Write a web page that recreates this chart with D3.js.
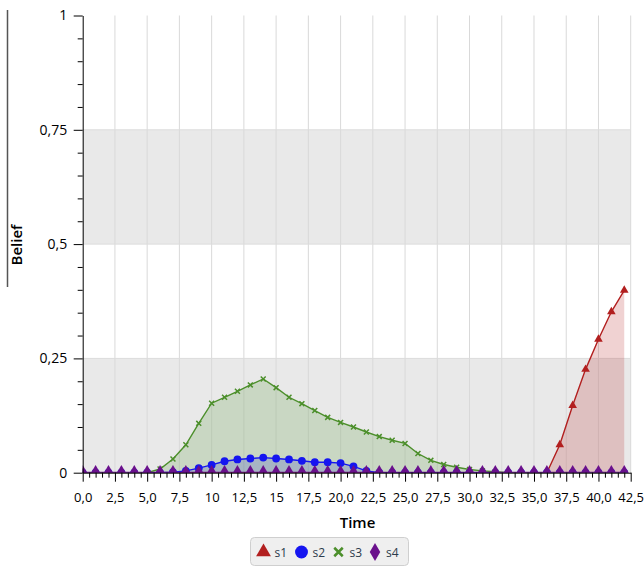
<!DOCTYPE html>
<html>
<head>
<meta charset="utf-8">
<script src="https://cdn.jsdelivr.net/npm/d3@7"></script>
<style>
  body { margin: 0; background: #fff; }
  svg { font-family: "Open Sans", "Noto Sans", sans-serif; }
  .axis path, .axis line { stroke: #000; }
</style>
</head>
<body>
<div id="chart"></div>
<script>
  "use strict";

  // time steps
  var times = d3.range(0, 43);

  // belief per series (one value per time step)
  var s1 = [0, 0, 0, 0, 0, 0, 0, 0, 0, 0,
            0, 0, 0, 0, 0, 0, 0, 0, 0, 0,
            0, 0, 0, 0, 0, 0, 0, 0, 0, 0,
            0, 0, 0, 0, 0, 0, 0, 0.061, 0.147, 0.226,
            0.292, 0.352, 0.399];
  var s2 = [0, 0, 0, 0, 0, 0, 0, 0.001, 0.004, 0.010,
            0.017, 0.025, 0.029, 0.031, 0.033, 0.031, 0.029, 0.026, 0.023, 0.023,
            0.021, 0.014, 0.004, 0, 0, 0, 0, 0, 0, 0,
            0, 0, 0, 0, 0, 0, 0, 0, 0, 0,
            0, 0, 0];
  var s3 = [0, 0, 0, 0, 0, 0, 0.008, 0.030, 0.061, 0.108,
            0.152, 0.165, 0.178, 0.192, 0.205, 0.186, 0.165, 0.151, 0.136, 0.121,
            0.110, 0.100, 0.089, 0.079, 0.071, 0.064, 0.042, 0.027, 0.018, 0.012,
            0.007, 0.004, 0.002, 0, 0, 0, 0, 0, 0, 0,
            0, 0, 0];
  var s4 = [0, 0, 0, 0, 0, 0, 0, 0, 0, 0,
            0, 0, 0, 0, 0, 0, 0, 0, 0, 0,
            0, 0, 0, 0, 0, 0, 0, 0, 0, 0,
            0, 0, 0, 0, 0, 0, 0, 0, 0, 0,
            0, 0, 0];

  var seriesNames = ["s1", "s2", "s3", "s4"];
  var seriesValues = [s1, s2, s3, s4];

  // axis ticks
  var xTicks = [0, 2.5, 5, 7.5, 10, 12.5, 15, 17.5, 20, 22.5, 25, 27.5, 30, 32.5, 35, 37.5, 40, 42.5];
  var xTickLabels = ["0,0", "2,5", "5,0", "7,5", "10", "12,5", "15", "17,5", "20,0", "22,5",
                     "25,0", "27,5", "30,0", "32,5", "35,0", "37,5", "40,0", "42,5"];
  var yTicks = [0, 0.25, 0.5, 0.75, 1];
  var yTickLabels = ["0", "0,25", "0,5", "0,75", "1"];
  var bands = [[0, 0.25], [0.5, 0.75]];

  var colors = { s1: "#b21f1f", s2: "#1515f0", s3: "#4c8f2b", s4: "#6a108c" };
  var shapes = { s1: d3.symbolTriangle, s2: d3.symbolCircle, s3: d3.symbolCross, s4: d3.symbolDiamond };

  var width = 644, height = 567;
  var margin = { left: 82.7, right: 13.3, top: 15.5, bottom: 94.3 };
  var innerW = width - margin.left - margin.right;
  var innerH = height - margin.top - margin.bottom;

  var svg = d3.select("#chart").append("svg")
      .attr("width", width)
      .attr("height", height);

  var x = d3.scaleLinear().domain([0, 42.5]).range([0, innerW]);
  var y = d3.scaleLinear().domain([0, 1]).range([innerH, 0]);

  var plot = svg.append("g")
      .attr("transform", "translate(" + margin.left + "," + margin.top + ")");

  svg.append("defs").append("clipPath").attr("id", "clip")
    .append("rect").attr("x", 0).attr("y", -10).attr("width", innerW + 8).attr("height", innerH + 10);

  // alternating bands
  plot.selectAll("rect.band").data(bands).enter().append("rect")
      .attr("class", "band")
      .attr("x", 0)
      .attr("width", innerW)
      .attr("y", function (d) { return y(d[1]); })
      .attr("height", function (d) { return y(d[0]) - y(d[1]); })
      .attr("fill", "#e9e9e9");

  // grid
  plot.selectAll("line.vgrid").data(xTicks.slice(1)).enter().append("line")
      .attr("class", "vgrid")
      .attr("x1", function (d) { return x(d); })
      .attr("x2", function (d) { return x(d); })
      .attr("y1", y(1)).attr("y2", y(0))
      .attr("stroke", "#d9d9d9").attr("stroke-width", 1);

  plot.selectAll("line.hgrid").data(yTicks.slice(1, 4)).enter().append("line")
      .attr("class", "hgrid")
      .attr("x1", 0).attr("x2", innerW)
      .attr("y1", function (d) { return y(d); })
      .attr("y2", function (d) { return y(d); })
      .attr("stroke", "#dcdcdc").attr("stroke-width", 1);

  var series = seriesNames.map(function (name, i) {
    return {
      name: name,
      points: times.map(function (t, j) { return { t: t, v: seriesValues[i][j] }; })
    };
  });

  var area = d3.area()
      .x(function (d) { return x(d.t); })
      .y0(y(0))
      .y1(function (d) { return y(d.v); });

  var line = d3.line()
      .x(function (d) { return x(d.t); })
      .y(function (d) { return y(d.v); });

  var marks = plot.append("g").attr("clip-path", "url(#clip)");

  marks.selectAll("path.area").data(series).enter().append("path")
      .attr("class", "area")
      .attr("d", function (d) { return area(d.points); })
      .attr("fill", function (d) { return colors[d.name]; })
      .attr("fill-opacity", 0.2);

  series.forEach(function (s) {
    var g = marks.append("g");
    g.append("path")
        .attr("d", line(s.points))
        .attr("fill", "none")
        .attr("stroke", colors[s.name])
        .attr("stroke-width", s.name === "s4" ? 2 : 1.4);

    var size = { s1: 32, s2: 48, s3: 40, s4: 70 }[s.name];
    g.selectAll("path.pt").data(s.points).enter().append("path")
        .attr("class", "pt")
        .attr("transform", function (d) {
          return "translate(" + x(d.t) + "," + y(d.v) + ")" + (s.name === "s3" ? " rotate(45)" : "");
        })
        .attr("d", s.name === "s3"
          ? "M-3.5,0H3.5M0,-3.5V3.5"
          : d3.symbol().type(shapes[s.name]).size(size)())
        .attr("fill", s.name === "s3" ? "none" : colors[s.name])
        .attr("stroke", s.name === "s3" ? colors[s.name] : "none")
        .attr("stroke-width", 1.5);
  });

  // axes
  var xMinor = d3.range(0, 42.51, 0.5).filter(function (d) { return xTicks.indexOf(d) < 0; });
  var yMinor = d3.range(0, 1.001, 0.05).map(function (d) { return Math.round(d * 100) / 100; })
      .filter(function (d) { return yTicks.indexOf(d) < 0; });

  function styleLabels(size) {
    return function (g) {
      g.selectAll("text")
          .style("font-family", "'Open Sans', 'Noto Sans', sans-serif")
          .style("font-size", size + "px")
          .attr("fill", "#000");
    };
  }

  plot.append("g").attr("class", "axis")
      .attr("transform", "translate(0," + innerH + ")")
      .call(d3.axisBottom(x).tickValues(xMinor).tickSize(5).tickFormat("").tickSizeOuter(0))
      .select(".domain").remove();

  plot.append("g").attr("class", "axis")
      .attr("transform", "translate(0," + innerH + ")")
      .call(d3.axisBottom(x).tickValues(xTicks).tickSize(9).tickSizeOuter(0)
        .tickFormat(function (d, i) { return xTickLabels[i]; }))
      .call(styleLabels(13))
      .call(function (g) { g.selectAll("text").attr("y", 20); });

  plot.append("g").attr("class", "axis")
      .call(d3.axisLeft(y).tickValues(yMinor).tickSize(5).tickFormat("").tickSizeOuter(0))
      .select(".domain").remove();

  plot.append("g").attr("class", "axis")
      .call(d3.axisLeft(y).tickValues(yTicks).tickSize(9).tickSizeOuter(0)
        .tickFormat(function (d, i) { return yTickLabels[i]; }))
      .call(styleLabels(14))
      .call(function (g) { g.selectAll("text").attr("x", -15.5); });

  // axis titles
  svg.append("text")
      .attr("x", 357.5).attr("y", 528)
      .attr("text-anchor", "middle")
      .attr("font-size", 15).attr("font-weight", 600)
      .text("Time");

  svg.append("line")
      .attr("x1", 7.5).attr("x2", 7.5).attr("y1", 10).attr("y2", 287)
      .attr("stroke", "#555").attr("stroke-width", 1.5);

  svg.append("text")
      .attr("transform", "translate(22,245) rotate(-90)")
      .attr("text-anchor", "middle")
      .attr("font-size", 15).attr("font-weight", 600)
      .text("Belief");

  // legend
  var legend = svg.append("g");
  legend.append("rect")
      .attr("x", 250.5).attr("y", 537.5).attr("width", 158).attr("height", 28)
      .attr("rx", 4)
      .attr("fill", "#efefef").attr("stroke", "#cfcfcf");

  var legendX = [263.5, 301.5, 338.5, 375];
  var item = legend.selectAll("g.item").data(seriesNames).enter().append("g")
      .attr("class", "item")
      .attr("transform", function (d, i) { return "translate(" + legendX[i] + ",552)"; });

  item.append("path")
      .attr("transform", function (d) { return d === "s3" ? "rotate(45)" : null; })
      .attr("d", function (d) {
        if (d === "s3") return "M-6,0H6M0,-6V6";
        var sz = { s1: 95, s2: 130, s4: 95 }[d];
        return d3.symbol().type(shapes[d]).size(sz)();
      })
      .attr("fill", function (d) { return d === "s3" ? "none" : colors[d]; })
      .attr("stroke", function (d) { return d === "s3" ? colors[d] : "none"; })
      .attr("stroke-width", 2.5);

  item.append("text")
      .attr("x", 11).attr("y", 5)
      .attr("font-size", 12).attr("fill", "#2c3b4c")
      .text(function (d) { return d; });
</script>
</body>
</html>
